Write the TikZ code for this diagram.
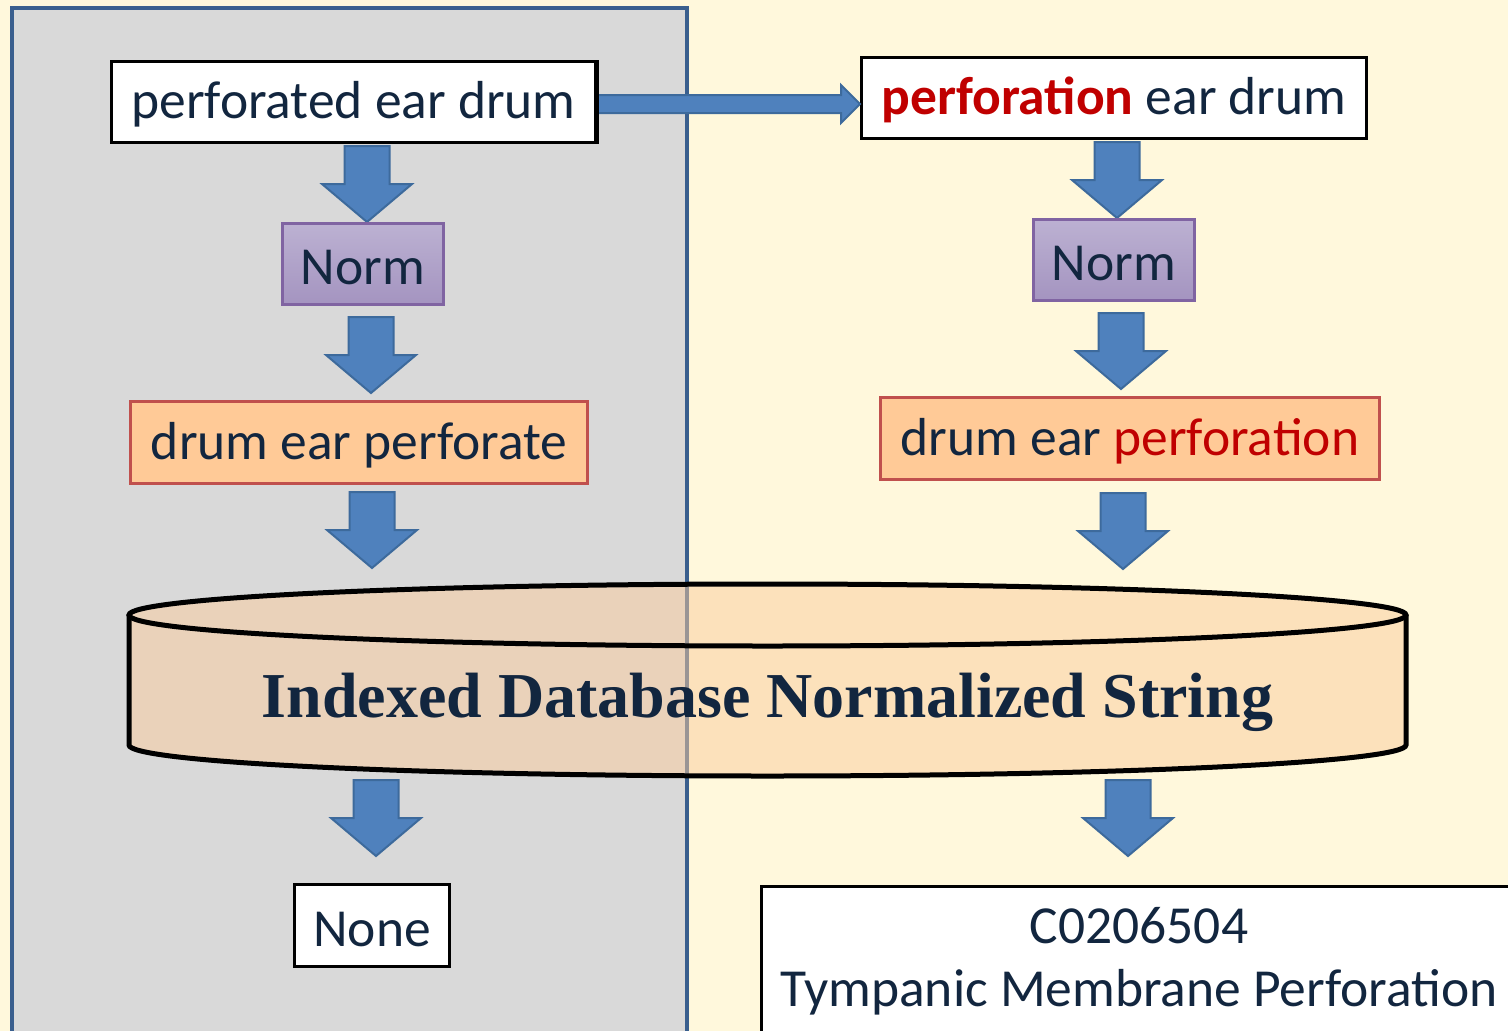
\documentclass[tikz,border=0pt]{standalone}
\usepackage{fontspec}
\setmainfont{Carlito}
\newfontfamily\dbfont{Liberation Serif}
\usetikzlibrary{positioning,calc}

\definecolor{bgyellow}{HTML}{FFF8DC}
\definecolor{panelgray}{HTML}{D9D9D9}
\definecolor{panelblue}{HTML}{3A5F8E}
\definecolor{txtnavy}{HTML}{12263F}
\definecolor{arrowfill}{HTML}{4F81BD}
\definecolor{arrowline}{HTML}{3D6A9C}
\definecolor{normtop}{HTML}{BCB1D2}
\definecolor{normbot}{HTML}{A494C0}
\definecolor{normline}{HTML}{8064A2}
\definecolor{stemfill}{HTML}{FFCA97}
\definecolor{stemline}{HTML}{C0504D}
\definecolor{dbfill}{HTML}{FBCC9C}
\definecolor{hotred}{HTML}{C00000}

\newcommand\bigtxt{\fontsize{53.5}{63}\selectfont}
\newcommand\blockdown[1]{\filldraw[blockarrow] (#1) ++(-22.5,0) -- ++(0,38) -- ++(-22.5,0) -- ++(45,38) -- ++(45,-38) -- ++(-22.5,0) -- ++(0,-38) -- cycle;}

\tikzset{
  whitebox/.style={draw=black, line width=3pt, fill=white, text=txtnavy, font=\bigtxt, inner sep=0pt},
  plain/.style={whitebox, text height=42pt},
  norm/.style={draw=normline, line width=3pt, top color=normtop, bottom color=normbot, text=txtnavy, font=\bigtxt, inner sep=0pt, minimum width=161pt, minimum height=81pt, text height=42pt},
  stem/.style={draw=stemline, line width=3pt, fill=stemfill, text=txtnavy, font=\bigtxt, inner sep=0pt, minimum height=82pt, text height=42pt},
  blockarrow/.style={fill=arrowfill, draw=arrowline, line width=2pt, line join=miter},
  panel/.style={fill=panelgray, draw=panelblue, line width=4.5pt},
  dbline/.style={draw=black, line width=5pt},
  dbtext/.style={text=txtnavy, font=\dbfont\bfseries\fontsize{64}{70}\selectfont}
}

\begin{document}
\begin{tikzpicture}[x=1pt,y=-1pt]
\useasboundingbox (0,0) rectangle (1508,1031);
\clip (0,0) rectangle (1508,1031);
\fill[bgyellow] (0,0) rectangle (1508,1031);
\draw[panel] (12,8) rectangle (687,1045);

% database cylinder
\fill[dbfill, fill opacity=0.5] (129,615) -- (129,745) arc[start angle=180, end angle=0, x radius=638.5, y radius=31]
  -- (1406,615) arc[start angle=0, end angle=-180, x radius=638.5, y radius=31] -- cycle;
\draw[dbline] (129,615) -- (129,745) arc[start angle=180, end angle=0, x radius=638.5, y radius=31] -- (1406,615);
\draw[dbline] (767.5,615) ellipse [x radius=638.5, y radius=31];
\node[dbtext] (db) at (767.5,702) {Indexed Database Normalized String};

% down arrows
\blockdown{367,146}
\blockdown{371,317}
\blockdown{372,492}
\blockdown{376,780}
\blockdown{1117,142}
\blockdown{1121,313}
\blockdown{1123,493}
\blockdown{1128,780}

% boxes
\node[plain, minimum width=484pt, minimum height=81pt] (src) at (353.5,102) {perforated ear drum};
\node[plain, minimum width=505pt, minimum height=81pt] (dst) at (1114,98) {{\bfseries\color{hotred}perforation} ear drum};

\coordinate (h1) at ($(src.east)+(0,2)$);
\coordinate (h2) at (dst.west |- h1);
\filldraw[blockarrow] ($(h1)+(0,-9)$) -- ($(h2)+(-19,-9)$) -- ($(h2)+(-19,-19)$) -- (h2)
  -- ($(h2)+(-19,19)$) -- ($(h2)+(-19,9)$) -- ($(h1)+(0,9)$) -- cycle;
\draw[line width=3pt] (src.north east) -- (src.south east);

\node[norm] (normL) at (363,264) {Norm};
\node[norm] (normR) at (1114,260) {Norm};

\node[stem, minimum width=457pt] (stemL) at (359,442.5) {drum ear perforate};
\node[stem, minimum width=499pt] (stemR) at (1130,438.5) {drum ear {\color{hotred}perforation}};

\node[plain, minimum width=155pt, minimum height=82pt] (none) at (372,925.5) {None};
\node[whitebox, minimum width=755pt, minimum height=149pt, align=center] (cui) at (1139,961) {C0206504\\Tympanic Membrane Perforation};
\end{tikzpicture}
\end{document}
